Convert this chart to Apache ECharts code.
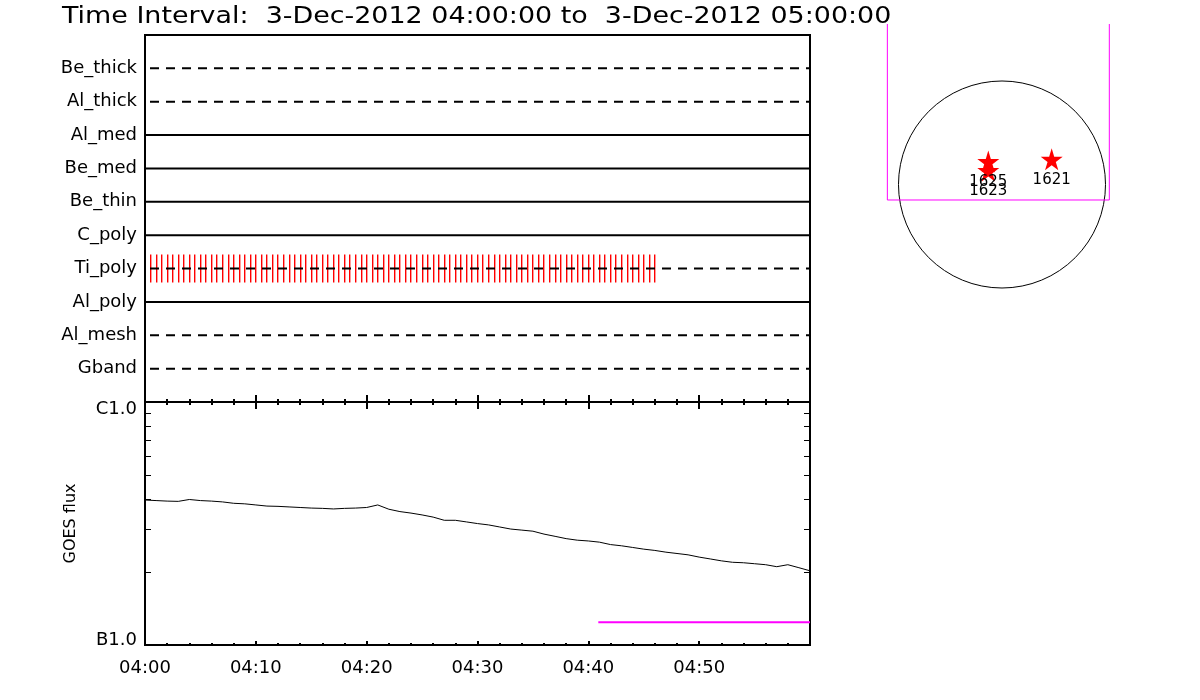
<!DOCTYPE html>
<html>
<head>
<meta charset="utf-8">
<script src="https://cdn.jsdelivr.net/npm/echarts@6/dist/echarts.min.js"></script>
<style>
    body{ margin: 0; background: #fff; }
    #myChart{ width: 1200px; height: 700px; }
</style>
</head>
<body>
<div id="myChart"></div>
<script>
    // filter rows, top to bottom
    const rowNames = ['Be_thick', 'Al_thick', 'Al_med', 'Be_med', 'Be_thin', 'C_poly', 'Ti_poly', 'Al_poly', 'Al_mesh', 'Gband']
    const rowDashed = [true, true, false, false, false, false, true, false, true, true]

    // Ti_poly events, seconds after 04:00
    const tiPolySec = [27, 57, 87, 117, 147, 177, 207, 237, 267, 297, 327, 357, 387, 417, 447, 477, 507, 537, 567, 597,
        627, 657, 687, 717, 747, 777, 807, 837, 867, 897, 927, 957, 987, 1017, 1047, 1077, 1107, 1137, 1167, 1197,
        1227, 1257, 1287, 1317, 1347, 1377, 1407, 1437, 1467, 1497, 1527, 1557, 1587, 1617, 1647, 1677, 1707, 1737,
        1767, 1797, 1827, 1857, 1887, 1917, 1947, 1977, 2007, 2037, 2067, 2097, 2127, 2157, 2187, 2217, 2247, 2277,
        2307, 2337, 2367, 2397, 2427, 2457, 2487, 2517, 2547, 2577, 2607, 2637, 2667, 2697, 2727, 2757]

    // GOES flux, minutes after 04:00
    const goesMin = [0, 1, 2, 3, 4, 5, 6, 7, 8, 9, 10, 11, 12, 13, 14, 15, 16, 17, 18, 19, 20, 21, 22, 23, 24, 25, 26, 27, 28, 29,
        30, 31, 32, 33, 34, 35, 36, 37, 38, 39, 40, 41, 42, 43, 44, 45, 46, 47, 48, 49, 50, 51, 52, 53, 54, 55, 56, 57, 58, 59, 60]
    const goesFlux = [3.95e-7, 3.93e-7, 3.91e-7, 3.90e-7, 3.97e-7, 3.93e-7, 3.91e-7, 3.88e-7, 3.83e-7, 3.81e-7,
        3.77e-7, 3.73e-7, 3.72e-7, 3.70e-7, 3.68e-7, 3.66e-7, 3.65e-7, 3.63e-7, 3.65e-7, 3.66e-7,
        3.68e-7, 3.77e-7, 3.62e-7, 3.54e-7, 3.49e-7, 3.43e-7, 3.36e-7, 3.26e-7, 3.26e-7, 3.21e-7,
        3.16e-7, 3.12e-7, 3.06e-7, 3.00e-7, 2.97e-7, 2.94e-7, 2.86e-7, 2.80e-7, 2.74e-7, 2.70e-7,
        2.68e-7, 2.65e-7, 2.59e-7, 2.56e-7, 2.52e-7, 2.48e-7, 2.45e-7, 2.41e-7, 2.38e-7, 2.35e-7,
        2.30e-7, 2.26e-7, 2.22e-7, 2.19e-7, 2.18e-7, 2.16e-7, 2.14e-7, 2.10e-7, 2.14e-7, 2.08e-7, 2.02e-7]
    const flagMin = [40.9, 60]
    const flagFlux = [1.24e-7, 1.24e-7]

    const timeLabels = ['04:00', '04:10', '04:20', '04:30', '04:40', '04:50']
    const fluxLabels = ['B1.0', 'C1.0']
    const logMinor = [2e-7, 3e-7, 4e-7, 5e-7, 6e-7, 7e-7, 8e-7, 9e-7]

    // solar disk panel, arcsec
    const sunR = 975
    const arNums = ['1625', '1623', '1621']
    const arX = [-129, -129, 468]
    const arY = [217, 132, 237]
    const fovX = [-1080, -1080, 1011, 1011]
    const fovY = [1512, -146, -146, 1512]

    const font = 'DejaVu Sans'
    const starPath = 'path://M50,0 L61,35 L98,35 L68,57 L79,91 L50,70 L21,91 L32,57 L2,35 L39,35 Z'

    function timeAxis(grid, pos, major, minor, labels) {
        return {
            type: 'value', gridIndex: grid, position: pos, min: 0, max: 60, interval: 10,
            axisLine: {show: true, lineStyle: {color: '#000', width: 2}},
            axisTick: {show: true, inside: true, length: major, lineStyle: {color: '#000', width: 2}},
            minorTick: {show: true, splitNumber: 5, length: minor, lineStyle: {color: '#000', width: 2}},
            splitLine: {show: false},
            axisLabel: {
                show: labels, margin: 14, color: '#000', fontSize: 18, fontFamily: font,
                formatter: v => timeLabels[v / 10] || ''
            }
        }
    }

    let rowSeries = rowNames.map((n, i) => ({
        type: 'line', xAxisIndex: 0, yAxisIndex: 0, symbol: 'none', silent: true, z: 4,
        data: [[0, 10 - i], [60, 10 - i]],
        lineStyle: {color: '#000', width: 2, type: rowDashed[i] ? [9, 7] : 'solid', dashOffset: 11}
    }))

    let tiRow = 10 - rowNames.indexOf('Ti_poly')

    let opt = {
        animation: false,
        backgroundColor: '#fff',
        graphic: [{
            type: 'text', x: 62, y: 17, scaleX: 1.17,
            style: {
                text: 'Time Interval:  3-Dec-2012 04:00:00 to  3-Dec-2012 05:00:00',
                fontSize: 23, fontFamily: font, fill: '#000', verticalAlign: 'middle'
            }
        }],
        grid: [
            {left: 145, top: 35, width: 665, height: 367, show: true, borderColor: '#000', borderWidth: 2},
            {left: 145, top: 402, width: 665, height: 243, show: true, borderColor: '#000', borderWidth: 2},
            {left: 882, top: 24, width: 240, height: 321}
        ],
        xAxis: [
            timeAxis(0, 'top', 4, 3, false),
            timeAxis(0, 'bottom', 7, 3, false),
            timeAxis(1, 'top', 7, 3, false),
            timeAxis(1, 'bottom', 4, 2, true),
            {type: 'value', gridIndex: 2, min: -1130.4, max: 1130.4, show: false}
        ],
        yAxis: [
            {
                type: 'value', gridIndex: 0, min: 0, max: 11, interval: 1,
                axisLine: {show: true, lineStyle: {color: '#000', width: 2}},
                axisTick: {show: false}, splitLine: {show: false},
                axisLabel: {
                    margin: 8, color: '#000', fontSize: 18, fontFamily: font,
                    formatter: v => rowNames[10 - v] || ''
                }
            },
            {
                type: 'log', logBase: 10, gridIndex: 1, min: 1e-7, max: 1e-6,
                name: 'GOES flux', nameLocation: 'middle', nameGap: 66,
                nameTextStyle: {color: '#000', fontSize: 16, fontFamily: font},
                axisLine: {show: true, lineStyle: {color: '#000', width: 2}},
                axisTick: {show: false}, splitLine: {show: false},
                axisLabel: {
                    margin: 8, color: '#000', fontSize: 18, fontFamily: font,
                    formatter: v => {
                        let k = Math.round(Math.log10(v)) + 7
                        return k ? '{c|' + fluxLabels[k] + '}' : '{b|' + fluxLabels[k] + '}'
                    },
                    rich: {
                        c: {fontSize: 18, fontFamily: font, color: '#000', padding: [14, 0, 0, 0]},
                        b: {fontSize: 18, fontFamily: font, color: '#000', padding: [0, 0, 10, 0]}
                    }
                }
            },
            {type: 'value', gridIndex: 2, min: -1512, max: 1512, show: false}
        ],
        series: rowSeries.concat([
            {
                // Ti_poly event marks
                type: 'custom', xAxisIndex: 0, yAxisIndex: 0, z: 3, silent: true,
                data: tiPolySec.map(s => [s / 60, tiRow]),
                renderItem(params, api) {
                    let p1 = api.coord([api.value(0), api.value(1) + 0.42])
                    let p2 = api.coord([api.value(0), api.value(1) - 0.42])
                    return {
                        type: 'rect',
                        shape: {x: Math.round(p1[0]), y: p1[1], width: 1.4, height: p2[1] - p1[1]},
                        style: {fill: '#ff0000'}
                    }
                }
            },
            {
                type: 'line', xAxisIndex: 3, yAxisIndex: 1, symbol: 'none', silent: true,
                data: goesMin.map((m, i) => [m, goesFlux[i]]),
                lineStyle: {color: '#000', width: 1}
            },
            {
                type: 'line', xAxisIndex: 3, yAxisIndex: 1, symbol: 'none', silent: true,
                data: flagMin.map((m, i) => [m, flagFlux[i]]),
                lineStyle: {color: '#ff00ff', width: 2}
            },
            {
                // log minor ticks, both sides
                type: 'custom', xAxisIndex: 3, yAxisIndex: 1, silent: true, clip: false,
                data: logMinor.map(v => [0, v]),
                renderItem(params, api) {
                    let l = api.coord([0, api.value(1)])
                    let r = api.coord([60, api.value(1)])
                    let y = Math.round(l[1]) + 0.5
                    return {
                        type: 'group', children: [
                            {type: 'line', shape: {x1: l[0], y1: y, x2: l[0] + 6, y2: y}, style: {stroke: '#000', lineWidth: 1}},
                            {type: 'line', shape: {x1: r[0], y1: y, x2: r[0] - 6, y2: y}, style: {stroke: '#000', lineWidth: 1}}
                        ]
                    }
                }
            },
            {
                type: 'custom', xAxisIndex: 4, yAxisIndex: 2, silent: true, clip: false,
                data: [[0, 0, sunR]],
                renderItem(params, api) {
                    let c = api.coord([api.value(0), api.value(1)])
                    let r = api.size([api.value(2), 0])[0]
                    return {
                        type: 'circle', shape: {cx: c[0], cy: c[1], r: r},
                        style: {fill: 'none', stroke: '#000', lineWidth: 1}
                    }
                }
            },
            {
                type: 'line', xAxisIndex: 4, yAxisIndex: 2, symbol: 'none', silent: true,
                data: fovX.map((x, i) => [x, fovY[i]]),
                lineStyle: {color: '#ff00ff', width: 1}
            },
            {
                type: 'scatter', xAxisIndex: 4, yAxisIndex: 2, silent: true,
                symbol: starPath, symbolSize: 22,
                itemStyle: {color: '#ff0000', opacity: 1},
                data: arX.map((x, i) => ({value: [x, arY[i]], name: arNums[i]})),
                label: {
                    show: true, position: 'bottom', distance: 2, formatter: '{b}',
                    color: '#000', fontSize: 15, fontFamily: font
                }
            }
        ])
    }

    let myChart = echarts.init(document.getElementById('myChart'))
    myChart.setOption(opt)
</script>
</body>
</html>
